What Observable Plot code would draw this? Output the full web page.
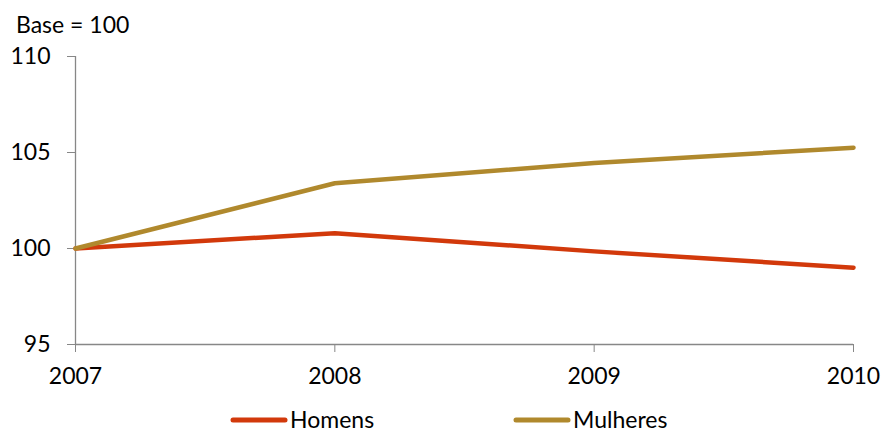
<!DOCTYPE html>
<html>
<head>
<meta charset="utf-8">
<script src="https://cdn.jsdelivr.net/npm/d3@7"></script>
<script src="https://cdn.jsdelivr.net/npm/@observablehq/plot@0.6"></script>
<style>
  body { margin: 0; background: #fff; font-family: Lato, "Open Sans", sans-serif; }
  #wrap { position: relative; width: 882px; height: 433px; overflow: hidden; }
  #title { position: absolute; left: 16px; top: 13px; font-size: 23px; color: #000; line-height: 1; }
  #legend { position: absolute; top: 408px; left: 0; width: 882px; font-size: 23px; color: #000; line-height: 1; }
  .item { position: absolute; display: flex; align-items: center; }
  .item svg { margin-right: 2px; }
</style>
</head>
<body>
<div id="wrap">
  <div id="chart"></div>
  <div id="title">Base = 100</div>
  <div id="legend"></div>
</div>
<script>
const years = [2007, 2008, 2009, 2010];
const homens = [100, 100.8, 99.85, 99.0];
const mulheres = [100, 103.4, 104.45, 105.25];
const seriesNames = ["Homens", "Mulheres"];
const seriesColors = ["#D2390B", "#B0892D"];
const yTicks = [95, 100, 105, 110];

const data = [];
years.forEach((y, i) => {
  data.push({year: y, value: homens[i], series: seriesNames[0]});
  data.push({year: y, value: mulheres[i], series: seriesNames[1]});
});

const plot = Plot.plot({
  width: 882,
  height: 400,
  marginLeft: 75,
  marginRight: 29,
  marginTop: 56,
  marginBottom: 56,
  style: { fontFamily: "Lato, 'Open Sans', sans-serif", fontSize: "23px", color: "#000", background: "#fff" },
  x: { domain: [2007, 2010], ticks: years, tickFormat: d => String(d), label: null },
  y: { domain: [95, 110], ticks: yTicks, label: null },
  color: { domain: seriesNames, range: seriesColors },
  marks: [
    Plot.axisY({ticks: yTicks, tickSize: 8, tickPadding: 17, stroke: "#878787", fill: "#000", label: null, fontSize: 23}),
    Plot.axisX({ticks: years, tickSize: 8, tickPadding: 15, stroke: "#878787", fill: "#000", label: null, tickFormat: d => String(d), fontSize: 23}),
    Plot.ruleX([2007], {stroke: "#878787", strokeWidth: 1.3}),
    Plot.ruleY([95], {stroke: "#878787", strokeWidth: 1.3}),
    Plot.line(data, {x: "year", y: "value", z: "series", stroke: "series", strokeWidth: 4.5, strokeLinecap: "round", strokeLinejoin: "round"})
  ]
});
document.getElementById("chart").appendChild(plot);

const legend = document.getElementById("legend");
const legendX = [230, 513];
seriesNames.forEach((name, i) => {
  const item = document.createElement("div");
  item.className = "item";
  item.style.left = legendX[i] + "px";
  item.innerHTML = `<svg width="58" height="10"><line x1="3" y1="5" x2="55" y2="5" stroke="${seriesColors[i]}" stroke-width="5" stroke-linecap="round"/></svg><span>${name}</span>`;
  legend.appendChild(item);
});
</script>
</body>
</html>
